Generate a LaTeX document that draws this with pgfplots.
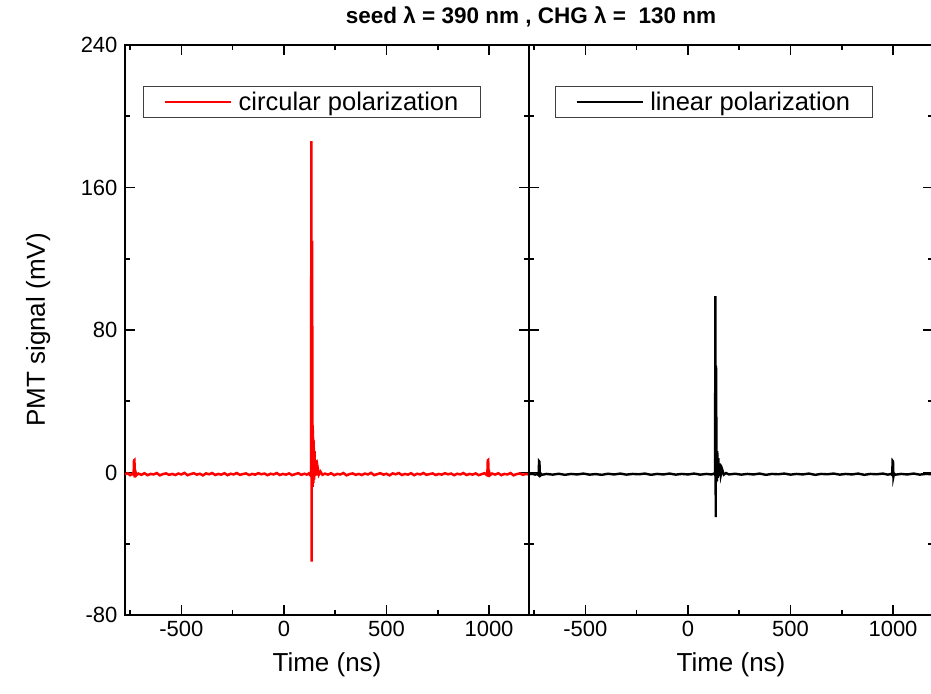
\documentclass[border=0pt]{standalone}
\usepackage{pgfplots}
\pgfplotsset{compat=1.18}
\usepackage{fontspec}
\setmainfont{Liberation Sans}

\pgfplotstableread{
x y
-775 -1.0
-762 -0.4
-750 -1.5
-740 -0.7
-733 -1.3
-731 6.8
-729 7.0
-727 -2.8
-724 0.3
-720 -1.6
-710 -0.6
-695 -1.3
-680 -0.4
-665 -1.5
-650 -0.8
-635 -1.1
-620 -0.3
-605 -1.6
-590 -0.9
-575 -0.5
-560 -1.3
-545 -0.8
-530 -1.4
-515 -0.6
-500 -1.1
-485 -0.2
-470 -1.5
-455 -0.9
-440 -0.4
-425 -1.2
-410 -0.7
-395 -1.6
-380 -0.5
-365 -1.0
-350 -0.3
-335 -1.4
-320 -0.8
-305 -1.2
-290 -0.4
-275 -1.5
-260 -0.7
-245 -1.1
-230 -0.3
-215 -1.3
-200 -0.9
-185 -0.5
-170 -1.4
-155 -0.8
-140 -1.2
-125 -0.4
-110 -1.0
-95 -0.6
-80 -1.5
-65 -0.7
-50 -1.1
-35 -0.3
-20 -1.4
-5 -0.8
10 -1.2
25 -0.5
40 -1.5
55 -0.9
70 -0.4
85 -1.3
100 -0.7
112 -1.2
122 -0.5
128 -1.4
132 -0.8
134 186
135 -50
137 130
139 40
140 -8
141.5 24
143 -6
145 18
147 -4
149 12
152 -2
155 7
159 -1.5
164 3
170 -1.2
178 0.5
188 -1.3
200 -0.6
215 -1.2
230 -0.4
245 -1.5
260 -0.8
275 -1.1
290 -0.3
305 -1.6
320 -0.9
335 -0.5
350 -1.3
365 -0.8
380 -1.4
395 -0.6
410 -1.1
425 -0.2
440 -1.5
455 -0.9
470 -0.4
485 -1.2
500 -0.7
515 -1.6
530 -0.5
545 -1.0
560 -0.3
575 -1.4
590 -0.8
605 -1.2
620 -0.4
635 -1.5
650 -0.7
665 -1.1
680 -0.3
695 -1.3
710 -0.9
725 -0.5
740 -1.4
755 -0.8
770 -1.2
785 -0.4
800 -1.0
815 -0.6
830 -1.5
845 -0.7
860 -1.1
875 -0.3
890 -1.4
905 -0.8
920 -1.2
935 -0.5
950 -1.5
965 -0.9
978 -0.4
988 -1.3
992 -0.7
994 6.8
996 7.0
998 -2.5
1001 0.2
1005 -1.5
1015 -0.6
1030 -1.2
1045 -0.4
1060 -1.5
1075 -0.8
1090 -1.1
1105 -0.3
1120 -1.6
1135 -0.9
1150 -0.5
1165 -1.3
1180 -0.8
1195 -1.1
}\circdata

\pgfplotstableread{
x y
-775 -1.0
-760 -0.7
-745 -1.2
-735 -0.8
-728 -1.5
-726 6.3
-724 6.0
-722 -2.5
-719 -0.5
-712 -1.3
-690 -0.8
-660 -1.2
-630 -0.7
-600 -1.3
-570 -0.8
-540 -1.1
-510 -0.6
-480 -1.2
-450 -0.9
-420 -1.3
-390 -0.7
-360 -1.1
-330 -0.6
-300 -1.2
-270 -0.8
-240 -1.0
-210 -0.6
-180 -1.3
-150 -0.8
-120 -1.1
-90 -0.6
-60 -1.2
-30 -0.8
0 -1.1
30 -0.6
60 -1.2
90 -0.8
115 -1.1
128 -0.6
132 -1.3
134 99
135.5 -25
137 60
139 15
141 -5
143 12
145 -3
148 8
151 -2
155 5
160 -1.5
166 2
175 -1.2
186 -0.3
200 -1.1
230 -0.7
260 -1.2
290 -0.8
320 -1.1
350 -0.6
380 -1.3
410 -0.8
440 -1.0
470 -0.6
500 -1.2
530 -0.8
560 -1.1
590 -0.6
620 -1.3
650 -0.8
680 -1.0
710 -0.6
740 -1.2
770 -0.8
800 -1.1
830 -0.6
860 -1.3
890 -0.8
920 -1.0
950 -0.6
975 -1.2
990 -0.8
996 -1.4
998 6.5
1000 6.2
1002 -2.3
1005 -0.6
1012 -1.2
1040 -0.8
1070 -1.1
1100 -0.6
1130 -1.2
1160 -0.8
1195 -1.0
}\lindata

\pgfplotsset{
  panel/.style={
    width=404pt, height=570pt, scale only axis,
    xmin=-775, xmax=1195, ymin=-80, ymax=240,
    xtick={-500,0,500,1000}, minor xtick={-750,-250,250,750},
    ytick={-80,0,80,160,240}, minor ytick={-40,40,120,200},
    tick align=inside, major tick length=10pt, minor tick length=5pt,
    every tick/.style={black, line width=1.6pt},
    axis line style={line width=1.8pt},
    /pgf/number format/assume math mode=true,
    /pgf/number format/1000 sep={},
    tick label style={font=\fontsize{22}{24}\selectfont},
    xticklabel style={yshift=-3pt},
    label style={font=\fontsize{26}{28}\selectfont},
    xlabel={Time (ns)},
    xlabel style={at={(axis description cs:0.5,-0.088)}, anchor=center},
    legend style={anchor=north west, draw=black!75, line width=1pt,
      font=\fontsize{25.5}{27}\selectfont, inner xsep=20pt, inner ysep=3pt,
      nodes={inner sep=2.5pt}, cells={anchor=west}},
    legend image code/.code={\draw[#1, line width=2.5pt] (0pt,0pt) -- (66pt,0pt);\path (70pt,0pt);},
  }
}

\begin{document}
\begin{tikzpicture}
\path[use as bounding box] (-125pt,-78pt) rectangle (806pt,615pt);
\begin{axis}[panel, name=L, at={(0pt,0pt)}, anchor=south west,
    ylabel={PMT signal (mV)},
    ylabel style={at={(axis description cs:-0.215,0.5)}, anchor=center},
    yticklabel style={xshift=-4pt},
    title={\textbf{seed λ = 390 nm , CHG λ = \ 130 nm}},
    title style={at={(axis description cs:1.005,1)}, anchor=base, yshift=15pt,
      font=\fontsize{22.5}{24}\selectfont},
    legend style={at={(axis description cs:0.045,0.928)}},
  ]
  \addplot[red, line width=2.5pt] table[x=x,y=y] {\circdata};
  \addlegendentry{circular polarization}
\end{axis}
\begin{axis}[panel, name=R, at={(404pt,0pt)}, anchor=south west,
    yticklabels={},
    legend style={at={(axis description cs:0.064,0.928)}},
  ]
  \addplot[black, line width=2.4pt] table[x=x,y=y] {\lindata};
  \addlegendentry{linear polarization}
\end{axis}
\end{tikzpicture}
\end{document}
